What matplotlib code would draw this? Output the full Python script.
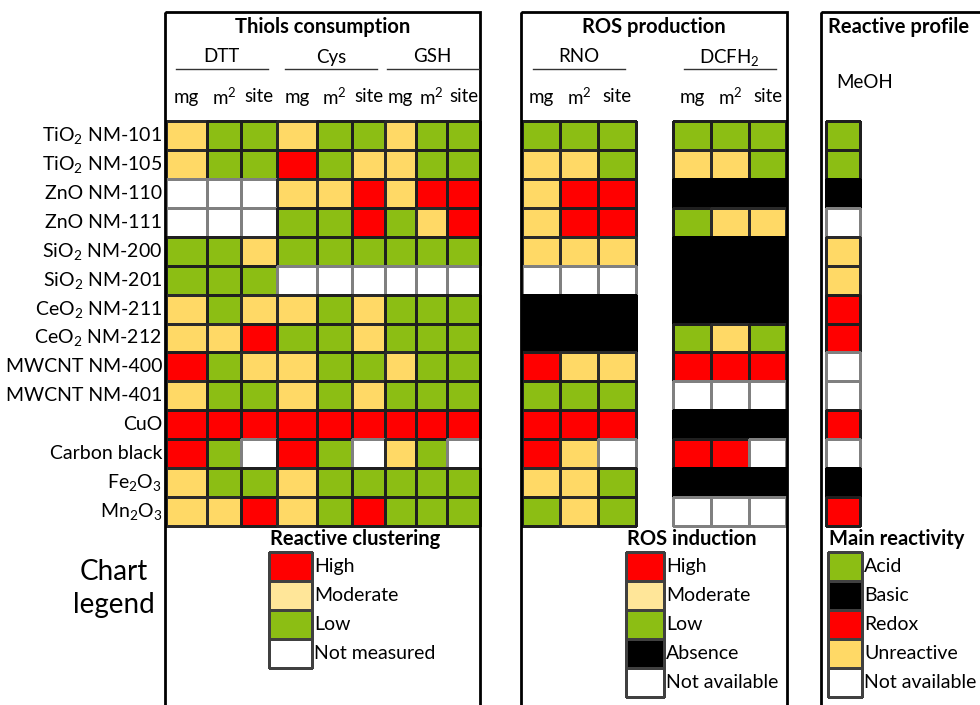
import matplotlib
matplotlib.use("Agg")
import matplotlib.pyplot as plt
from matplotlib.colors import ListedColormap, BoundaryNorm
from matplotlib.patches import Rectangle
import numpy as np

plt.rcParams['font.family'] = ['Lato', 'DejaVu Sans']
plt.rcParams['mathtext.fontset'] = 'custom'
plt.rcParams['mathtext.rm'] = 'Lato'
plt.rcParams['mathtext.it'] = 'Lato:italic'
plt.rcParams['mathtext.bf'] = 'Lato:bold'

# ---------------- data ----------------
materials = ["TiO$_2$ NM-101", "TiO$_2$ NM-105", "ZnO NM-110", "ZnO NM-111",
             "SiO$_2$ NM-200", "SiO$_2$ NM-201", "CeO$_2$ NM-211", "CeO$_2$ NM-212",
             "MWCNT NM-400", "MWCNT NM-401", "CuO", "Carbon black",
             "Fe$_2$O$_3$", "Mn$_2$O$_3$"]
units = ["mg", "m$^2$", "site"]
thiol_assays = ["DTT", "Cys", "GSH"]
ros_assays = ["RNO", "DCFH$_2$"]
profile_assays = ["MeOH"]

# R=high, Y=moderate, G=low, W=not measured/available, K=absence/basic
dtt = ["YGG", "YGG", "WWW", "WWW", "GGY", "GGG", "YGY", "YYR", "RGY", "YGG", "RRR", "RGW", "YGG", "YYR"]
cys = ["YGG", "RGY", "YYR", "GGR", "GGG", "WWW", "YGY", "GGY", "YGG", "YGY", "RRR", "RGW", "YGG", "YGR"]
gsh = ["YGG", "YGG", "YRR", "GYR", "GGG", "WWW", "GGG", "GGG", "YGG", "GGG", "RRR", "YGW", "GGG", "GGG"]
rno = ["GGG", "YYG", "YRR", "YRR", "YYY", "WWW", "KKK", "KKK", "RYY", "GGG", "RRR", "RYW", "YYG", "GYG"]
dcfh2 = ["GGG", "YYG", "KKK", "GYY", "KKK", "KKK", "KKK", "GYG", "RRR", "WWW", "KKK", "RRW", "KKK", "WWW"]
meoh = ["G", "G", "K", "W", "Y", "Y", "R", "R", "W", "W", "R", "W", "K", "R"]

cluster_title = "Reactive clustering"
cluster_labels = ["High", "Moderate", "Low", "Not measured"]
cluster_codes = ["R", "M", "G", "W"]
ros_title = "ROS induction"
ros_labels = ["High", "Moderate", "Low", "Absence", "Not available"]
ros_codes = ["R", "M", "G", "K", "W"]
react_title = "Main reactivity"
react_labels = ["Acid", "Basic", "Redox", "Unreactive", "Not available"]
react_codes = ["G", "K", "R", "Y", "W"]

# ---------------- styling ----------------
code_order = ["R", "Y", "M", "G", "W", "K"]
code_colors = ["#FF0000", "#FFD966", "#FFE699", "#8CBE14", "#FFFFFF", "#000000"]
edge_colors = {"R": "#1f1f1f", "Y": "#2a2a2a", "M": "#404040", "G": "#1f1f1f",
               "W": "#808080", "K": "#000000"}
cmap = ListedColormap(code_colors)
norm = BoundaryNorm(np.arange(len(code_order) + 1) - 0.5, cmap.N)


def to_idx(rows):
    return np.array([[code_order.index(c) for c in r] for r in rows])


def edges_for(rows):
    return [edge_colors[c] for r in rows for c in r]


fig = plt.figure(figsize=(9.8, 7.05), dpi=100)
ax = fig.add_axes([0, 0, 1, 1])
ax.set_xlim(0, 980)
ax.set_ylim(705, 0)
ax.axis("off")

row_edges = np.linspace(121, 526, len(materials) + 1)
row_centers = (row_edges[:-1] + row_edges[1:]) / 2

thiol_x = np.array([166, 207, 241, 277, 317, 352, 385, 416, 447, 480])
rno_x = np.array([522, 560, 598, 636])
dcf_x = np.array([673, 711, 749, 786])
meoh_x = np.array([826, 860])


def grid(xe, rows):
    ax.pcolormesh(xe, row_edges, to_idx(rows), cmap=cmap, norm=norm,
                  edgecolors=edges_for(rows), linewidth=1.0)


thiol_grid = [a + b + c for a, b, c in zip(dtt, cys, gsh)]
grid(thiol_x, thiol_grid)
grid(rno_x, rno)
grid(dcf_x, dcfh2)
grid(meoh_x, meoh)

# panel boxes
for x0, x1 in [(165, 480), (521, 787), (821, 1100)]:
    ax.add_patch(Rectangle((x0, 12), x1 - x0, 760, fill=False, lw=2, ec="black"))

# row labels
for y, name in zip(row_centers, materials):
    ax.text(162, y, name, ha="right", va="center", fontsize=14)

fs_title = 14.5
fs_unit = 13.5
ax.text(322.5, 27, "Thiols consumption", ha="center", va="center", fontsize=fs_title, fontweight="bold")
ax.text(654, 27, "ROS production", ha="center", va="center", fontsize=fs_title, fontweight="bold")
ax.text(828, 27, "Reactive profile", ha="left", va="center", fontsize=fs_title, fontweight="bold")
ax.text(836, 82, profile_assays[0], ha="left", va="center", fontsize=fs_unit)


def group_header(xe, name):
    c = (xe[0] + xe[-1]) / 2
    ax.text(c, 57, name, ha="center", va="center", fontsize=fs_unit)
    ax.plot([c - 46, c + 46], [69, 69], color="#333333", lw=1)
    centers = (xe[:-1] + xe[1:]) / 2
    for cx, u in zip(centers, units):
        ax.text(cx, 97, u, ha="center", va="center", fontsize=fs_unit)


for g, name in enumerate(thiol_assays):
    group_header(thiol_x[3 * g:3 * g + 4], name)
group_header(rno_x, ros_assays[0])
group_header(dcf_x, ros_assays[1])

# chart legend text
ax.text(114, 572, "Chart", ha="center", va="center", fontsize=20)
ax.text(114, 605, "legend", ha="center", va="center", fontsize=20)


def legend(x0, x1, title, labels, codes):
    ye = 552 + 29 * np.arange(len(labels) + 1)
    ax.text(x0 + 1, 539, title, ha="left", va="center", fontsize=fs_title, fontweight="bold")
    ax.pcolormesh(np.array([x0, x1]), ye, to_idx([[c] for c in codes]),
                  cmap=cmap, norm=norm, edgecolors="#404040", linewidth=1.0)
    for y, lab in zip((ye[:-1] + ye[1:]) / 2, labels):
        ax.text(x1 + 2, y, lab, ha="left", va="center", fontsize=14)


legend(269, 312, cluster_title, cluster_labels, cluster_codes)
legend(626, 664, ros_title, ros_labels, ros_codes)
legend(828, 862, react_title, react_labels, react_codes)

fig.savefig("out.png", dpi=100)
